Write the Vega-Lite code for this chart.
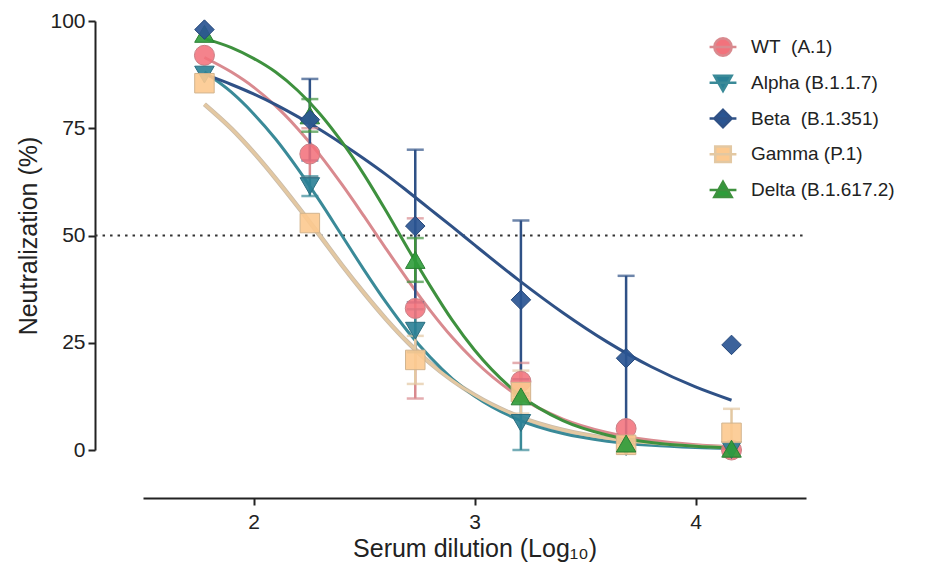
{
  "$schema": "https://vega.github.io/schema/vega-lite/v6.json",
  "width": 663,
  "height": 429,
  "autosize": {"type": "none"},
  "padding": {"left": 143, "top": 21, "right": 120, "bottom": 123},
  "background": "white",
  "config": {
    "font": "Liberation Sans",
    "view": {"stroke": null},
    "axis": {"grid": false, "domainColor": "#222", "domainWidth": 2, "tickColor": "#222", "tickWidth": 2, "tickSize": 7, "labelColor": "#222", "labelFontSize": 21, "labelFont": "Liberation Sans", "titleFont": "Liberation Sans", "titleFontWeight": "normal", "titleColor": "#222", "titleFontSize": 25}
  },
  "datasets": {
    "pts": [
      {"variant": "WT\u00a0 (A.1)", "x": 1.778, "y": 92},
      {"variant": "WT\u00a0 (A.1)", "x": 2.255, "y": 69, "lo": 63.5, "hi": 75},
      {"variant": "WT\u00a0 (A.1)", "x": 2.732, "y": 33, "lo": 12, "hi": 54},
      {"variant": "WT\u00a0 (A.1)", "x": 3.21, "y": 16, "lo": 11.7, "hi": 20.3},
      {"variant": "WT\u00a0 (A.1)", "x": 3.686, "y": 5},
      {"variant": "WT\u00a0 (A.1)", "x": 4.163, "y": 0},
      {"variant": "Alpha (B.1.1.7)", "x": 1.778, "y": 87.5},
      {"variant": "Alpha (B.1.1.7)", "x": 2.255, "y": 61.5, "lo": 59.2, "hi": 63.8},
      {"variant": "Alpha (B.1.1.7)", "x": 2.732, "y": 27.8, "lo": 22.8, "hi": 32.8},
      {"variant": "Alpha (B.1.1.7)", "x": 3.21, "y": 6.3, "lo": 0, "hi": 12.6},
      {"variant": "Alpha (B.1.1.7)", "x": 3.686, "y": 0.7},
      {"variant": "Alpha (B.1.1.7)", "x": 4.163, "y": 0},
      {"variant": "Beta\u00a0 (B.1.351)", "x": 1.778, "y": 98},
      {"variant": "Beta\u00a0 (B.1.351)", "x": 2.255, "y": 77, "lo": 67.5, "hi": 86.5},
      {"variant": "Beta\u00a0 (B.1.351)", "x": 2.732, "y": 52.2, "lo": 34.4, "hi": 70},
      {"variant": "Beta\u00a0 (B.1.351)", "x": 3.21, "y": 35, "lo": 16.5, "hi": 53.5},
      {"variant": "Beta\u00a0 (B.1.351)", "x": 3.686, "y": 21.4, "lo": 2.2, "hi": 40.6},
      {"variant": "Beta\u00a0 (B.1.351)", "x": 4.163, "y": 24.5},
      {"variant": "Gamma (P.1)", "x": 1.778, "y": 85.5},
      {"variant": "Gamma (P.1)", "x": 2.255, "y": 52.9},
      {"variant": "Gamma (P.1)", "x": 2.732, "y": 21, "lo": 15.4, "hi": 26.6},
      {"variant": "Gamma (P.1)", "x": 3.21, "y": 13.5, "lo": 8.5, "hi": 18.5},
      {"variant": "Gamma (P.1)", "x": 3.686, "y": 1.2},
      {"variant": "Gamma (P.1)", "x": 4.163, "y": 4, "lo": -1.6, "hi": 9.6},
      {"variant": "Delta (B.1.617.2)", "x": 1.778, "y": 97},
      {"variant": "Delta (B.1.617.2)", "x": 2.255, "y": 78, "lo": 74.2, "hi": 81.8},
      {"variant": "Delta (B.1.617.2)", "x": 2.732, "y": 44.3, "lo": 39.2, "hi": 49.4},
      {"variant": "Delta (B.1.617.2)", "x": 3.21, "y": 12.5, "lo": 11.8, "hi": 13.2},
      {"variant": "Delta (B.1.617.2)", "x": 3.686, "y": 1.5},
      {"variant": "Delta (B.1.617.2)", "x": 4.163, "y": 0.3}
    ],
    "curves": [
      {"variant": "WT\u00a0 (A.1)", "x": 1.778, "y": 91.5},
      {"variant": "WT\u00a0 (A.1)", "x": 1.9, "y": 88.1},
      {"variant": "WT\u00a0 (A.1)", "x": 2.0, "y": 84.6},
      {"variant": "WT\u00a0 (A.1)", "x": 2.1, "y": 80.2},
      {"variant": "WT\u00a0 (A.1)", "x": 2.2, "y": 74.9},
      {"variant": "WT\u00a0 (A.1)", "x": 2.3, "y": 68.8},
      {"variant": "WT\u00a0 (A.1)", "x": 2.4, "y": 61.9},
      {"variant": "WT\u00a0 (A.1)", "x": 2.5, "y": 54.5},
      {"variant": "WT\u00a0 (A.1)", "x": 2.6, "y": 46.9},
      {"variant": "WT\u00a0 (A.1)", "x": 2.7, "y": 39.5},
      {"variant": "WT\u00a0 (A.1)", "x": 2.8, "y": 32.5},
      {"variant": "WT\u00a0 (A.1)", "x": 2.9, "y": 26.2},
      {"variant": "WT\u00a0 (A.1)", "x": 3.0, "y": 20.8},
      {"variant": "WT\u00a0 (A.1)", "x": 3.2, "y": 12.5},
      {"variant": "WT\u00a0 (A.1)", "x": 3.4, "y": 7.2},
      {"variant": "WT\u00a0 (A.1)", "x": 3.6, "y": 4.07},
      {"variant": "WT\u00a0 (A.1)", "x": 3.8, "y": 2.25},
      {"variant": "WT\u00a0 (A.1)", "x": 4.0, "y": 1.24},
      {"variant": "WT\u00a0 (A.1)", "x": 4.163, "y": 0.76},
      {"variant": "Alpha (B.1.1.7)", "x": 1.778, "y": 88.1},
      {"variant": "Alpha (B.1.1.7)", "x": 1.9, "y": 83.4},
      {"variant": "Alpha (B.1.1.7)", "x": 2.0, "y": 78.4},
      {"variant": "Alpha (B.1.1.7)", "x": 2.1, "y": 72.5},
      {"variant": "Alpha (B.1.1.7)", "x": 2.2, "y": 65.6},
      {"variant": "Alpha (B.1.1.7)", "x": 2.3, "y": 58.0},
      {"variant": "Alpha (B.1.1.7)", "x": 2.4, "y": 50.0},
      {"variant": "Alpha (B.1.1.7)", "x": 2.5, "y": 42.0},
      {"variant": "Alpha (B.1.1.7)", "x": 2.6, "y": 34.4},
      {"variant": "Alpha (B.1.1.7)", "x": 2.7, "y": 27.5},
      {"variant": "Alpha (B.1.1.7)", "x": 2.8, "y": 21.6},
      {"variant": "Alpha (B.1.1.7)", "x": 2.9, "y": 16.6},
      {"variant": "Alpha (B.1.1.7)", "x": 3.0, "y": 12.6},
      {"variant": "Alpha (B.1.1.7)", "x": 3.2, "y": 7.05},
      {"variant": "Alpha (B.1.1.7)", "x": 3.4, "y": 3.83},
      {"variant": "Alpha (B.1.1.7)", "x": 3.6, "y": 2.05},
      {"variant": "Alpha (B.1.1.7)", "x": 3.8, "y": 1.08},
      {"variant": "Alpha (B.1.1.7)", "x": 4.0, "y": 0.57},
      {"variant": "Alpha (B.1.1.7)", "x": 4.163, "y": 0.34},
      {"variant": "Beta\u00a0 (B.1.351)", "x": 1.778, "y": 87.6},
      {"variant": "Beta\u00a0 (B.1.351)", "x": 1.9, "y": 85.2},
      {"variant": "Beta\u00a0 (B.1.351)", "x": 2.0, "y": 83.0},
      {"variant": "Beta\u00a0 (B.1.351)", "x": 2.1, "y": 80.5},
      {"variant": "Beta\u00a0 (B.1.351)", "x": 2.2, "y": 77.7},
      {"variant": "Beta\u00a0 (B.1.351)", "x": 2.3, "y": 74.7},
      {"variant": "Beta\u00a0 (B.1.351)", "x": 2.4, "y": 71.4},
      {"variant": "Beta\u00a0 (B.1.351)", "x": 2.5, "y": 67.9},
      {"variant": "Beta\u00a0 (B.1.351)", "x": 2.6, "y": 64.2},
      {"variant": "Beta\u00a0 (B.1.351)", "x": 2.7, "y": 60.2},
      {"variant": "Beta\u00a0 (B.1.351)", "x": 2.8, "y": 56.1},
      {"variant": "Beta\u00a0 (B.1.351)", "x": 2.9, "y": 52.0},
      {"variant": "Beta\u00a0 (B.1.351)", "x": 3.0, "y": 47.8},
      {"variant": "Beta\u00a0 (B.1.351)", "x": 3.2, "y": 39.6},
      {"variant": "Beta\u00a0 (B.1.351)", "x": 3.4, "y": 32.0},
      {"variant": "Beta\u00a0 (B.1.351)", "x": 3.6, "y": 25.2},
      {"variant": "Beta\u00a0 (B.1.351)", "x": 3.8, "y": 19.4},
      {"variant": "Beta\u00a0 (B.1.351)", "x": 4.0, "y": 14.7},
      {"variant": "Beta\u00a0 (B.1.351)", "x": 4.163, "y": 11.6},
      {"variant": "Gamma (P.1)", "x": 1.778, "y": 80.6},
      {"variant": "Gamma (P.1)", "x": 1.9, "y": 74.9},
      {"variant": "Gamma (P.1)", "x": 2.0, "y": 69.4},
      {"variant": "Gamma (P.1)", "x": 2.1, "y": 63.3},
      {"variant": "Gamma (P.1)", "x": 2.2, "y": 56.8},
      {"variant": "Gamma (P.1)", "x": 2.3, "y": 50.0},
      {"variant": "Gamma (P.1)", "x": 2.4, "y": 43.1},
      {"variant": "Gamma (P.1)", "x": 2.5, "y": 36.6},
      {"variant": "Gamma (P.1)", "x": 2.6, "y": 30.5},
      {"variant": "Gamma (P.1)", "x": 2.7, "y": 25.0},
      {"variant": "Gamma (P.1)", "x": 2.8, "y": 20.2},
      {"variant": "Gamma (P.1)", "x": 2.9, "y": 16.2},
      {"variant": "Gamma (P.1)", "x": 3.0, "y": 12.8},
      {"variant": "Gamma (P.1)", "x": 3.2, "y": 7.8},
      {"variant": "Gamma (P.1)", "x": 3.4, "y": 4.67},
      {"variant": "Gamma (P.1)", "x": 3.6, "y": 2.75},
      {"variant": "Gamma (P.1)", "x": 3.8, "y": 1.61},
      {"variant": "Gamma (P.1)", "x": 4.0, "y": 0.94},
      {"variant": "Gamma (P.1)", "x": 4.163, "y": 0.6},
      {"variant": "Delta (B.1.617.2)", "x": 1.778, "y": 95.9},
      {"variant": "Delta (B.1.617.2)", "x": 1.9, "y": 93.8},
      {"variant": "Delta (B.1.617.2)", "x": 2.0, "y": 91.3},
      {"variant": "Delta (B.1.617.2)", "x": 2.1, "y": 88.1},
      {"variant": "Delta (B.1.617.2)", "x": 2.2, "y": 83.8},
      {"variant": "Delta (B.1.617.2)", "x": 2.3, "y": 78.4},
      {"variant": "Delta (B.1.617.2)", "x": 2.4, "y": 71.8},
      {"variant": "Delta (B.1.617.2)", "x": 2.5, "y": 64.2},
      {"variant": "Delta (B.1.617.2)", "x": 2.6, "y": 55.7},
      {"variant": "Delta (B.1.617.2)", "x": 2.7, "y": 46.8},
      {"variant": "Delta (B.1.617.2)", "x": 2.8, "y": 38.2},
      {"variant": "Delta (B.1.617.2)", "x": 2.9, "y": 30.2},
      {"variant": "Delta (B.1.617.2)", "x": 3.0, "y": 23.3},
      {"variant": "Delta (B.1.617.2)", "x": 3.2, "y": 13.0},
      {"variant": "Delta (B.1.617.2)", "x": 3.4, "y": 6.86},
      {"variant": "Delta (B.1.617.2)", "x": 3.6, "y": 3.5},
      {"variant": "Delta (B.1.617.2)", "x": 3.8, "y": 1.75},
      {"variant": "Delta (B.1.617.2)", "x": 4.0, "y": 0.87},
      {"variant": "Delta (B.1.617.2)", "x": 4.163, "y": 0.49}
    ]
  },
  "resolve": {"scale": {"x": "independent", "y": "independent"}},
  "layer": [
    {
      "layer": [
        {
          "data": {"values": [{}]},
          "mark": {"type": "rule", "strokeDash": [2.5, 5], "strokeWidth": 2, "color": "#333"},
          "encoding": {
            "x": {"datum": 1.283, "type": "quantitative", "scale": {"domain": [1.5, 4.5], "nice": false, "zero": false}},
            "x2": {"datum": 4.5},
            "y": {"datum": 50, "type": "quantitative"}
          }
        },
        {
          "data": {"name": "curves"},
          "transform": [{"filter": "indexof(datum.variant, 'Gamma') == 0"}],
          "mark": {"type": "line", "interpolate": "monotone", "strokeWidth": 4.6, "color": "#C9BBAA"},
          "encoding": {
            "x": {"field": "x", "type": "quantitative"},
            "y": {"field": "y", "type": "quantitative"}
          }
        },
        {
          "data": {"name": "curves"},
          "mark": {"type": "line", "interpolate": "monotone", "strokeWidth": 3},
          "encoding": {
            "x": {"field": "x", "type": "quantitative", "scale": {"domain": [1.5, 4.5], "nice": false, "zero": false},
                  "axis": {"values": [2, 3, 4], "format": "d", "offset": 48, "title": "Serum dilution (Log₁₀)", "titlePadding": 4, "labelPadding": 6, "labelFontSize": 21, "titleFontSize": 25}},
            "y": {"field": "y", "type": "quantitative", "scale": {"domain": [0, 100], "nice": false},
                  "axis": {"values": [0, 25, 50, 75, 100], "offset": 48, "title": "Neutralization (%)", "titlePadding": 8, "labelPadding": 3, "labelFontSize": 21, "titleFontSize": 25}},
            "color": {"field": "variant", "type": "nominal", "legend": null,
                       "scale": {"domain": ["WT\u00a0 (A.1)", "Alpha (B.1.1.7)", "Beta\u00a0 (B.1.351)", "Gamma (P.1)", "Delta (B.1.617.2)"],
                                 "range": ["#D98A8F", "#3A8A98", "#2F5186", "#E3C8A2", "#3E913E"]}}
          }
        },
        {
          "data": {"name": "pts"},
          "transform": [{"filter": "isValid(datum.lo)"}],
          "mark": {"type": "rule", "strokeWidth": 2.5},
          "encoding": {
            "x": {"field": "x", "type": "quantitative"},
            "y": {"field": "lo", "type": "quantitative"},
            "y2": {"field": "hi"},
            "color": {"field": "variant", "type": "nominal", "legend": null}
          }
        },
        {
          "data": {"name": "pts"},
          "transform": [{"filter": "isValid(datum.lo)"}],
          "mark": {"type": "tick", "orient": "horizontal", "size": 17, "thickness": 2.5},
          "encoding": {
            "x": {"field": "x", "type": "quantitative"},
            "y": {"field": "lo", "type": "quantitative"},
            "color": {"field": "variant", "type": "nominal", "legend": null}
          }
        },
        {
          "data": {"name": "pts"},
          "transform": [{"filter": "isValid(datum.hi)"}],
          "mark": {"type": "tick", "orient": "horizontal", "size": 17, "thickness": 2.5},
          "encoding": {
            "x": {"field": "x", "type": "quantitative"},
            "y": {"field": "hi", "type": "quantitative"},
            "color": {"field": "variant", "type": "nominal", "legend": null}
          }
        },
        {
          "data": {"name": "pts"},
          "transform": [{"filter": "indexof(datum.variant, 'WT') == 0"}],
          "mark": {"type": "point", "shape": "circle", "filled": true, "size": 400, "fill": "#F2727C", "stroke": "#C98086", "strokeWidth": 1, "fillOpacity": 0.88},
          "encoding": {"x": {"field": "x", "type": "quantitative"}, "y": {"field": "y", "type": "quantitative"}}
        },
        {
          "data": {"name": "pts"},
          "transform": [{"filter": "indexof(datum.variant, 'Alpha') == 0"}],
          "mark": {"type": "point", "shape": "triangle-down", "filled": true, "size": 380, "fill": "#2A8095", "stroke": "#2A6E80", "strokeWidth": 1, "fillOpacity": 0.9},
          "encoding": {"x": {"field": "x", "type": "quantitative"}, "y": {"field": "y", "type": "quantitative"}}
        },
        {
          "data": {"name": "pts"},
          "transform": [{"filter": "indexof(datum.variant, 'Gamma') == 0"}],
          "mark": {"type": "point", "shape": "square", "filled": true, "size": 380, "fill": "#FCC98F", "stroke": "#D2B48E", "strokeWidth": 1, "fillOpacity": 0.9},
          "encoding": {"x": {"field": "x", "type": "quantitative"}, "y": {"field": "y", "type": "quantitative"}}
        },
        {
          "data": {"name": "pts"},
          "transform": [{"filter": "indexof(datum.variant, 'Delta') == 0"}],
          "mark": {"type": "point", "shape": "triangle-up", "filled": true, "size": 380, "fill": "#2E9C3A", "stroke": "#2A7F33", "strokeWidth": 1, "fillOpacity": 0.9},
          "encoding": {"x": {"field": "x", "type": "quantitative"}, "y": {"field": "y", "type": "quantitative"}}
        },
        {
          "data": {"name": "pts"},
          "transform": [{"filter": "indexof(datum.variant, 'Beta') == 0"}],
          "mark": {"type": "point", "shape": "diamond", "filled": true, "size": 380, "fill": "#2A5592", "stroke": "#24477A", "strokeWidth": 1, "fillOpacity": 0.92},
          "encoding": {"x": {"field": "x", "type": "quantitative"}, "y": {"field": "y", "type": "quantitative"}}
        }
      ]
    },
    {
      "data": {"name": "pts"},
      "transform": [{"aggregate": [{"op": "count", "as": "n"}], "groupby": ["variant"]}],
      "encoding": {
        "y": {"field": "variant", "type": "nominal", "axis": null,
              "scale": {"type": "point", "padding": 0, "domain": ["WT\u00a0 (A.1)", "Alpha (B.1.1.7)", "Beta\u00a0 (B.1.351)", "Gamma (P.1)", "Delta (B.1.617.2)"], "range": [26, 169]}}
      },
      "layer": [
        {
          "mark": {"type": "text", "align": "left", "baseline": "middle", "fontSize": 19, "font": "Liberation Sans", "color": "#222"},
          "encoding": {
            "x": {"datum": 24, "type": "quantitative", "axis": null, "scale": {"domain": [0, 100], "range": [560, 760]}},
            "text": {"field": "variant", "type": "nominal"}
          }
        },
        {
          "mark": {"type": "point", "filled": true, "size": 300, "strokeWidth": 2.5, "opacity": 1},
          "encoding": {
            "x": {"datum": 10, "type": "quantitative", "axis": null},
            "fill": {"field": "variant", "type": "nominal", "legend": null,
                     "scale": {"domain": ["WT\u00a0 (A.1)", "Alpha (B.1.1.7)", "Beta\u00a0 (B.1.351)", "Gamma (P.1)", "Delta (B.1.617.2)"],
                               "range": ["#F2727C", "#2A8095", "#2A5592", "#FCC98F", "#2E9C3A"]}},
            "stroke": {"field": "variant", "type": "nominal", "legend": null,
                       "scale": {"domain": ["WT\u00a0 (A.1)", "Alpha (B.1.1.7)", "Beta\u00a0 (B.1.351)", "Gamma (P.1)", "Delta (B.1.617.2)"],
                                 "range": ["#D98A8F", "#3A8A98", "#2F5186", "#E3C8A2", "#3E913E"]}},
            "shape": {"field": "variant", "type": "nominal", "legend": null,
                      "scale": {"domain": ["WT\u00a0 (A.1)", "Alpha (B.1.1.7)", "Beta\u00a0 (B.1.351)", "Gamma (P.1)", "Delta (B.1.617.2)"],
                                "range": ["M-1.55,0H1.55M1,0L0.924,0.383L0.707,0.707L0.383,0.924L0,1L-0.383,0.924L-0.707,0.707L-0.924,0.383L-1,0L-0.924,-0.383L-0.707,-0.707L-0.383,-0.924L0,-1L0.383,-0.924L0.707,-0.707L0.924,-0.383Z", "M-1.55,0H1.55M-1,-0.8L1,-0.8L0,0.95Z", "M-1.55,0H1.55M0,-1L1,0L0,1L-1,0Z", "M-1.55,0H1.55M-0.9,-0.9H0.9V0.9H-0.9Z", "M-1.55,0H1.55M0,-0.95L1,0.8L-1,0.8Z"]}}
          }
        }
      ]
    }
  ]
}
